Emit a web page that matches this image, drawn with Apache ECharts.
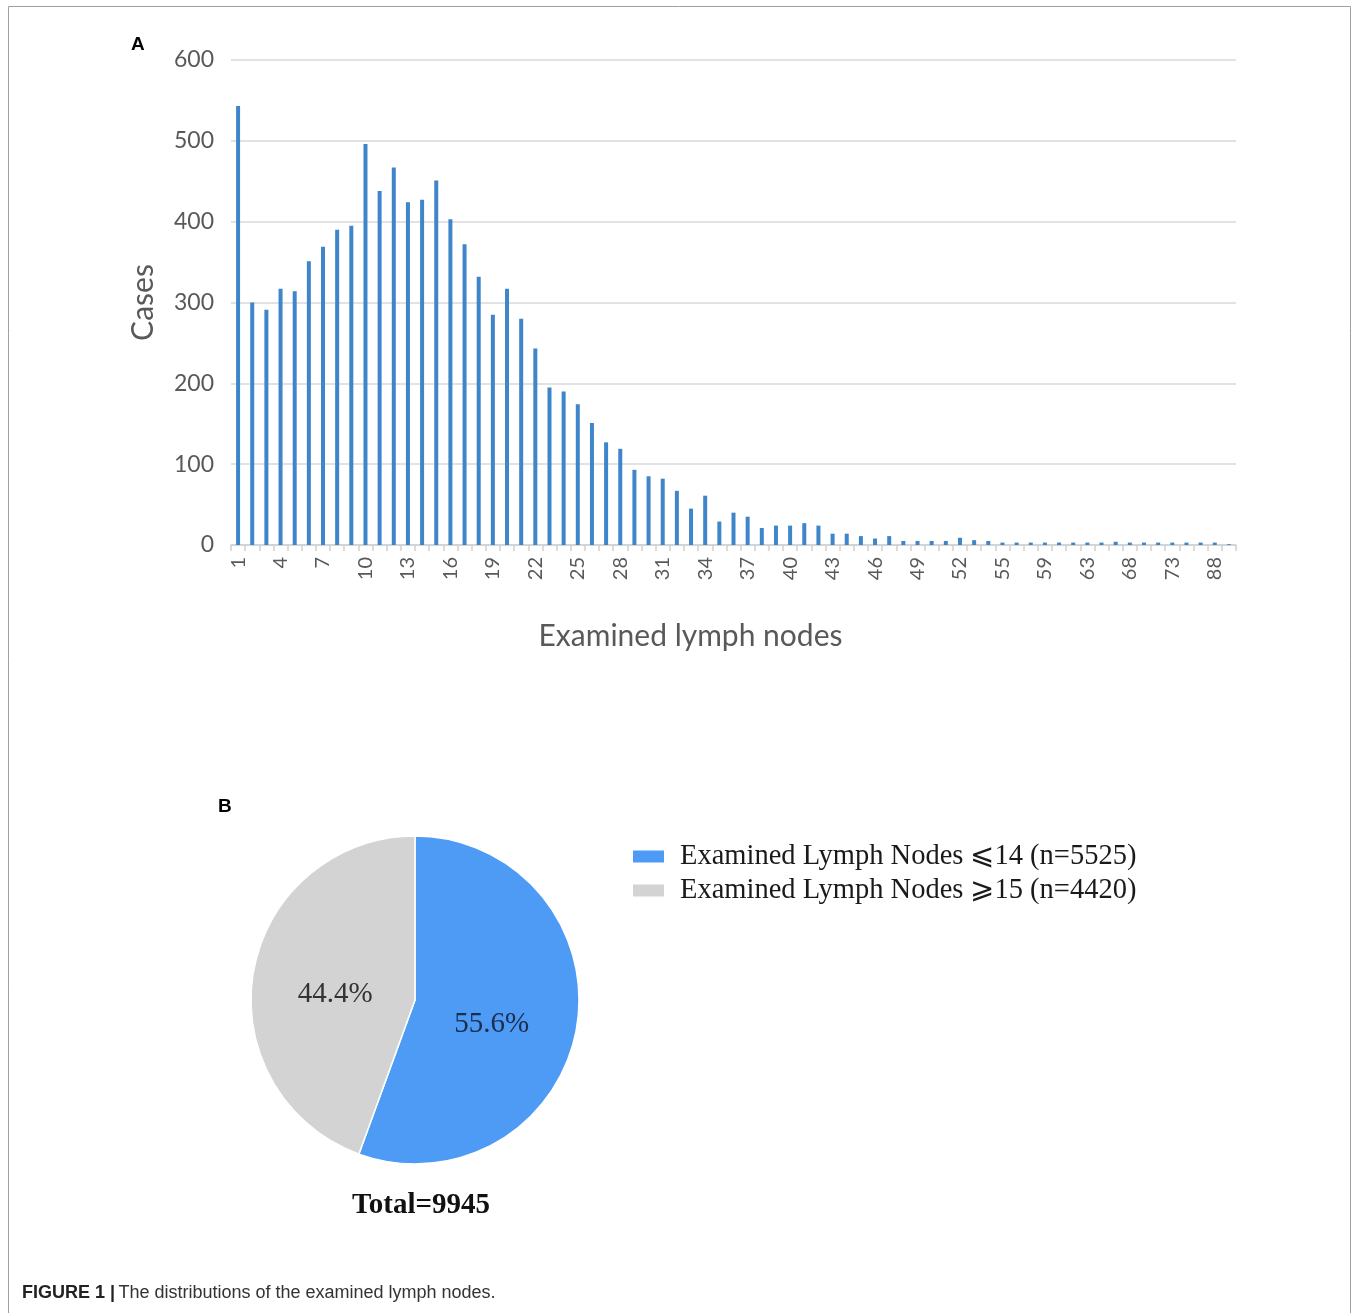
<!DOCTYPE html>
<html>
<head>
<meta charset="utf-8">
<script src="https://cdn.jsdelivr.net/npm/echarts@6/dist/echarts.min.js"></script>
<style>
html,body{margin:0;padding:0;background:#fff;}
#chart{width:1357px;height:1313px;}
</style>
</head>
<body>
<div id="chart"></div>
<script>
// Panel A: histogram of examined lymph nodes
const nodeCategories = ['1','2','3','4','5','6','7','8','9','10','11','12','13','14','15','16','17','18','19','20',
  '21','22','23','24','25','26','27','28','29','30','31','32','33','34','35','36','37','38','39','40',
  '41','42','43','44','45','46','47','48','49','50','51','52','53','54','55',
  '56','57','59','60','61','63','64','65','68','69','70','73','75','80','88','90'];
const caseCounts = [543,300,291,317,314,351,369,390,395,496,438,467,424,427,451,403,372,332,285,317,
  280,243,195,190,174,151,127,119,93,85,82,67,45,61,29,40,35,21,24,24,
  27,24,14,14,11,8,11,5,5,5,5,9,6,5,3,
  3,3,3,3,3,3,3,4,3,3,3,3,3,3,3,1];
const yTicks = [0,100,200,300,400,500,600];

// Panel B: pie
const pieNames = ['Examined Lymph Nodes \u2A7D14 (n=5525)', 'Examined Lymph Nodes \u2A7E15 (n=4420)'];
const pieValues = [5525, 4420];
const pieLabels = ['55.6%', '44.4%'];
const totalText = 'Total=9945';

const chart = echarts.init(document.getElementById('chart'), null, {renderer:'canvas'});
const axisFont = 'Lato, "Open Sans", sans-serif';
const serif = '"Liberation Serif", "DejaVu Serif", serif';

const option = {
  backgroundColor: '#fff',
  animation: false,
  grid: {left: 231, right: 121, top: 60, bottom: 768, containLabel: false},
  xAxis: {
    type: 'category',
    data: nodeCategories,
    boundaryGap: true,
    name: 'Examined lymph nodes',
    nameLocation: 'middle',
    nameGap: 76,
    nameTextStyle: {fontFamily: axisFont, fontSize: 30, color: '#595959', padding: [0, 86, 0, 0]},
    axisLine: {lineStyle: {color: '#d0d0d0', width: 1.5}},
    axisTick: {show: true, interval: 0, length: 6, lineStyle: {color: '#d0d0d0', width: 1.5}},
    axisLabel: {interval: 2, rotate: 90, margin: 12, fontFamily: axisFont, fontSize: 20, color: '#595959'},
    splitLine: {show: false}
  },
  yAxis: {
    type: 'value',
    min: yTicks[0],
    max: yTicks[yTicks.length - 1],
    interval: 100,
    name: 'Cases',
    nameLocation: 'middle',
    nameGap: 73,
    nameTextStyle: {fontFamily: axisFont, fontSize: 30, color: '#595959'},
    axisLine: {show: false},
    axisTick: {show: false},
    axisLabel: {margin: 17, fontFamily: axisFont, fontSize: 23, color: '#595959'},
    splitLine: {lineStyle: {color: '#d9d9d9', width: 1.5}}
  },
  legend: {
    data: pieNames,
    orient: 'vertical',
    left: 631,
    top: 842,
    padding: 0,
    itemWidth: 33,
    itemHeight: 14,
    itemGap: 5,
    icon: 'rect',
    textStyle: {fontFamily: serif, fontSize: 28.5, color: '#1a1a1a', padding: [0,0,0,10]}
  },
  series: [
    {
      type: 'bar',
      data: caseCounts,
      barWidth: 4,
      itemStyle: {color: '#3f85c9'},
      silent: true
    },
    {
      type: 'pie',
      center: [415, 1000],
      radius: 164,
      startAngle: 90,
      clockwise: true,
      silent: true,
      data: pieNames.map((n, i) => ({
        name: n,
        value: pieValues[i],
        itemStyle: {color: i === 0 ? '#4e9bf6' : '#d3d3d3', borderColor: '#fff', borderWidth: 1.5},
        label: {color: i === 0 ? '#1c2d4f' : '#333333', offset: i === 0 ? [-7, 10] : [4, 9]}
      })),
      label: {
        show: true,
        position: 'inside',
        formatter: (p) => pieLabels[p.dataIndex],
        fontFamily: serif,
        fontSize: 29
      },
      labelLine: {show: false}
    }
  ],
  graphic: [
    {type: 'rect', shape: {x: 8.5, y: 6.5, width: 1342, height: 1400}, style: {fill: 'none', stroke: '#a0a0a0', lineWidth: 1}, silent: true},
    {type: 'text', left: 131, top: 35, style: {text: 'A', font: 'bold 19px "Liberation Sans", Arial, sans-serif', fill: '#000'}},
    {type: 'text', left: 218, top: 797, style: {text: 'B', font: 'bold 19px "Liberation Sans", Arial, sans-serif', fill: '#000'}},
    {type: 'text', x: 421, y: 1206, style: {text: totalText, font: 'bold 29px "Liberation Serif", serif', fill: '#111', align: 'center', verticalAlign: 'middle'}},
    {type: 'text', x: 22, y: 1293, style: {
      text: '{b|FIGURE 1 |} {n|The distributions of the examined lymph nodes.}',
      verticalAlign: 'middle',
      rich: {
        b: {font: 'bold 18px "Liberation Sans", Arial, sans-serif', fill: '#222'},
        n: {font: '18px "Liberation Sans", Arial, sans-serif', fill: '#333'}
      }
    }}
  ]
};
chart.setOption(option);
</script>
</body>
</html>
